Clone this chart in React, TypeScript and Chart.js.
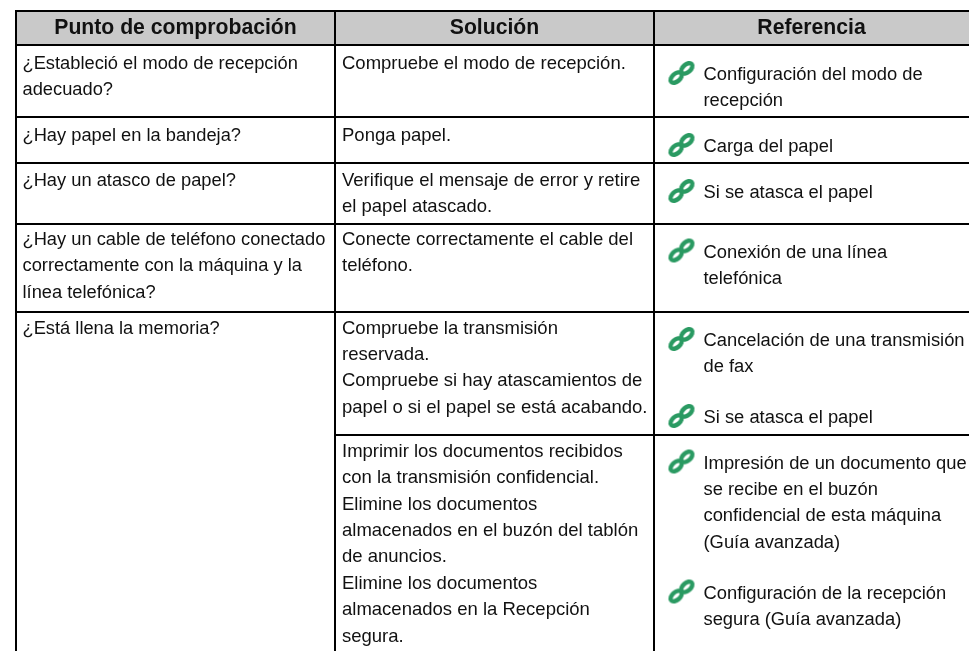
import React, { useEffect, useRef } from "react";
import { Chart, registerables } from "chart.js";

Chart.register(...registerables);

// ---- table content ----
const headers = ["Punto de comprobación", "Solución", "Referencia"];

const checkPoints = [
  ["¿Estableció el modo de recepción", "adecuado?"],
  ["¿Hay papel en la bandeja?"],
  ["¿Hay un atasco de papel?"],
  ["¿Hay un cable de teléfono conectado", "correctamente con la máquina y la", "línea telefónica?"],
  ["¿Está llena la memoria?"],
];

const solutions = [
  ["Compruebe el modo de recepción."],
  ["Ponga papel."],
  ["Verifique el mensaje de error y retire", "el papel atascado."],
  ["Conecte correctamente el cable del", "teléfono."],
  ["Compruebe la transmisión", "reservada.", "Compruebe si hay atascamientos de", "papel o si el papel se está acabando."],
  ["Imprimir los documentos recibidos", "con la transmisión confidencial.", "Elimine los documentos", "almacenados en el buzón del tablón", "de anuncios.", "Elimine los documentos", "almacenados en la Recepción", "segura."],
];

const references = [
  ["Configuración del modo de", "recepción"],
  ["Carga del papel"],
  ["Si se atasca el papel"],
  ["Conexión de una línea", "telefónica"],
  ["Cancelación de una transmisión", "de fax"],
  ["Si se atasca el papel"],
  ["Impresión de un documento que", "se recibe en el buzón", "confidencial de esta máquina", "(Guía avanzada)"],
  ["Configuración de la recepción", "segura (Guía avanzada)"],
];

// ---- table geometry on the chart's scales ----
const columnEdges = [16, 335, 654, 969];
const rowEdges = [11, 45, 117, 163, 224, 312, 435, 651];
const firstBaselineCol1 = [68.5, 140.5, 185.5, 245, 333.5];
const firstBaselineCol2 = [68.5, 140.5, 185.5, 245, 333.5, 456.7];
const firstBaselineCol3 = [80, 152, 198, 257.5, 346, 423, 468.5, 598.5];
const LINE_HEIGHT = 26.4;
const TEXT_X = [22.5, 342, 703.5];
const FONT_SIZE = [18.3, 18.5, 18.35];
const ICON_X = 681.5;
const ICON_DY = -7;
const FONT = '"Liberation Sans", Arial, sans-serif';

function linkIcon(): HTMLCanvasElement {
  const c = document.createElement("canvas");
  c.width = 36;
  c.height = 34;
  const g = c.getContext("2d")!;
  g.translate(18, 17);
  g.rotate(-Math.PI / 4.4);
  g.strokeStyle = "#2a9a62";
  g.lineWidth = 4.4;
  g.filter = "blur(0.6px)";
  g.beginPath();
  g.ellipse(-7, 0, 6.6, 3.9, 0, 0, Math.PI * 2);
  g.stroke();
  g.beginPath();
  g.ellipse(7, 0, 6.6, 3.9, 0, 0, Math.PI * 2);
  g.stroke();
  return c;
}

function rule(x1: number, y1: number, x2: number, y2: number) {
  return {
    type: "line" as const,
    data: [{ x: x1, y: y1 }, { x: x2, y: y2 }],
    borderColor: "#000000",
    borderWidth: 2,
    pointRadius: 0,
    clip: false,
    order: 1,
  };
}

const tablePlugin = {
  id: "tableText",
  afterDatasetsDraw(chart: any) {
    const { ctx, scales } = chart;
    const px = (v: number) => scales.x.getPixelForValue(v);
    const py = (v: number) => scales.y.getPixelForValue(v);
    ctx.save();
    ctx.textBaseline = "alphabetic";
    ctx.fillStyle = "#111111";

    ctx.font = `bold 21.2px ${FONT}`;
    ctx.textAlign = "center";
    headers.forEach((h, i) => {
      ctx.fillText(h, px((columnEdges[i] + columnEdges[i + 1]) / 2), py(33.5));
    });

    ctx.textAlign = "left";
    const column = (cells: string[][], baselines: number[], c: number) => {
      ctx.font = `${FONT_SIZE[c]}px ${FONT}`;
      cells.forEach((lines, r) => {
        lines.forEach((t, l) => ctx.fillText(t, px(TEXT_X[c]), py(baselines[r] + l * LINE_HEIGHT)));
      });
    };
    column(checkPoints, firstBaselineCol1, 0);
    column(solutions, firstBaselineCol2, 1);
    column(references, firstBaselineCol3, 2);
    ctx.restore();
  },
};

export default function App() {
  const ref = useRef<HTMLCanvasElement>(null);
  useEffect(() => {
    const [c0, c1, c2, c3] = columnEdges;
    const [top, headBottom, r1, r2, r3, r4, r5, bottom] = rowEdges;
    const chart = new Chart(ref.current!, {
      type: "line",
      data: {
        datasets: [
          {
            type: "line",
            data: [{ x: c0, y: top }, { x: c3, y: top }],
            borderWidth: 0,
            pointRadius: 0,
            backgroundColor: "#c9c9c9",
            fill: { target: { value: headBottom } },
            clip: false,
            order: 3,
          },
          rule(c0, top, c3, top),
          rule(c0, headBottom, c3, headBottom),
          rule(c0, r1, c3, r1),
          rule(c0, r2, c3, r2),
          rule(c0, r3, c3, r3),
          rule(c0, r4, c3, r4),
          rule(c1, r5, c3, r5),
          rule(c0, top - 1, c0, bottom),
          rule(c1, top, c1, bottom),
          rule(c2, top, c2, bottom),
          {
            type: "scatter",
            data: firstBaselineCol3.map((b) => ({ x: ICON_X, y: b + ICON_DY })),
            pointStyle: linkIcon(),
            pointRadius: 13,
            showLine: false,
            clip: false,
            order: 0,
          },
        ] as any,
      },
      options: {
        animation: false,
        responsive: false,
        events: [],
        parsing: false,
        layout: { padding: 0, autoPadding: false },
        plugins: { legend: { display: false }, tooltip: { enabled: false }, title: { display: false } },
        scales: {
          x: { type: "linear", min: 0, max: 969, display: false },
          y: { type: "linear", min: 0, max: 651, reverse: true, display: false },
        },
      },
      plugins: [tablePlugin],
    } as any);
    return () => chart.destroy();
  }, []);
  return (
    <div style={{ position: "absolute", left: 0, top: 0, width: 969, height: 651, background: "#fff" }}>
      <canvas ref={ref} width={969} height={651} style={{ display: "block" }} />
    </div>
  );
}
